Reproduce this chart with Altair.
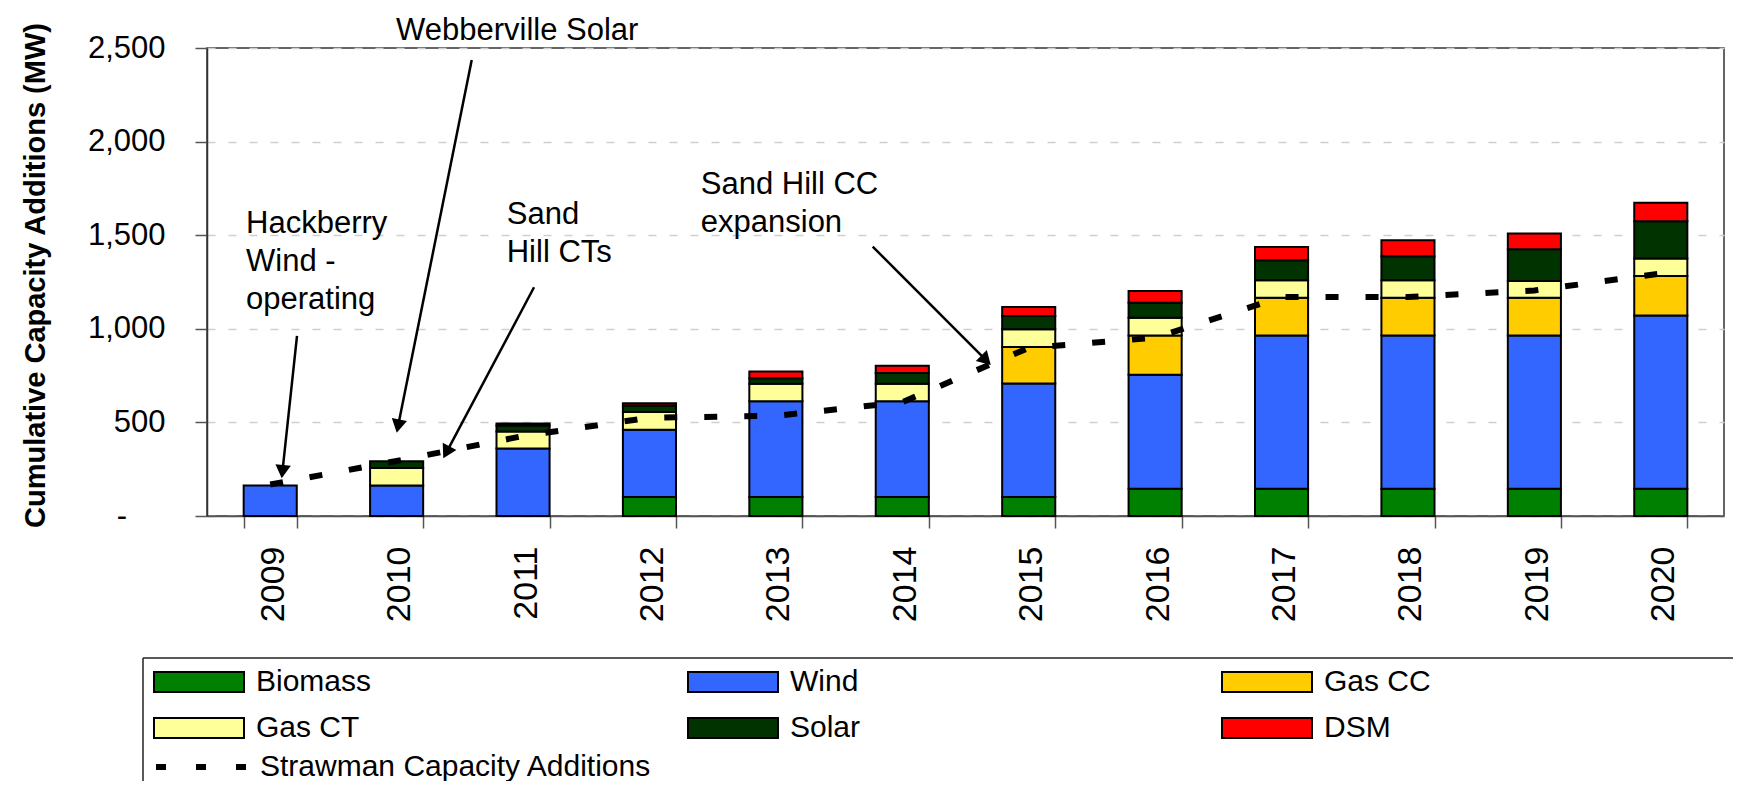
import math
import altair as alt
import pandas as pd

# ---------------- data ----------------
years = ["2009", "2010", "2011", "2012", "2013", "2014",
         "2015", "2016", "2017", "2018", "2019", "2020"]
series = ["Biomass", "Wind", "Gas CC", "Gas CT", "Solar", "DSM"]
colors = ["#008000", "#3366FF", "#FFCC00", "#FFFF99", "#003300", "#FF0000"]

biomass = [0, 0, 0, 102, 102, 102, 102, 145, 145, 145, 145, 145]
wind    = [163, 163, 360, 359, 511, 511, 606, 609, 819, 819, 819, 926]
gas_cc  = [0, 0, 0, 0, 0, 0, 195, 210, 202, 202, 202, 211]
gas_ct  = [0, 93, 92, 94, 93, 93, 94, 95, 93, 93, 89, 93]
solar   = [0, 37, 32, 35, 30, 58, 71, 80, 107, 128, 170, 200]
dsm     = [0, 0, 10, 12, 36, 38, 48, 63, 71, 86, 84, 98]
strawman = [168, 294, 427, 525, 535, 608, 898, 952, 1170, 1170, 1205, 1295]
strawman_label = "Strawman Capacity Additions"

y_ticks = [0, 500, 1000, 1500, 2000, 2500]
y_title = "Cumulative Capacity Additions (MW)"

# annotations (x in year-slot units from the left edge, y in MW)
note_c_text = ["Webberville Solar"]
note_c_pos = [2.454]
note_c_mw = [2543]
note_l_text = ["Hackberry\nWind -\noperating", "Sand\nHill CTs", "Sand Hill CC\nexpansion"]
note_l_pos = [0.309, 2.371, 3.906]
note_l_mw = [1510, 1560, 1720]
arrow_from_pos = [2.094, 0.712, 2.587, 5.266]
arrow_from_mw = [2436, 962, 1222, 1439]
arrow_to_pos = [1.501, 0.591, 1.869, 6.200]
arrow_to_mw = [445, 201, 308, 807]

# ---------------- layout ----------------
W, H = 1517, 468
FONT = "Liberation Sans"
PX_X = W / len(years)
PX_Y = H / 2500
HEAD = 240
head_len = math.sqrt(3) / 2 * math.sqrt(HEAD)

rows = []
for si, (name, vals) in enumerate(zip(series, [biomass, wind, gas_cc, gas_ct, solar, dsm])):
    for yr, v in zip(years, vals):
        if v > 0:
            rows.append({"year": yr, "series": name, "value": v, "order": si})
bar_df = pd.DataFrame(rows)
line_df = pd.DataFrame({"year": years, "value": strawman, "label": strawman_label})

arr_rows, head_rows = [], []
for sx, sv, tx, tv in zip(arrow_from_pos, arrow_from_mw, arrow_to_pos, arrow_to_mw):
    dx = (tx - sx) * PX_X
    dy = -(tv - sv) * PX_Y
    L = math.hypot(dx, dy)
    ux, uy = dx / L, dy / L
    bx = tx - head_len * 0.9 * ux / PX_X
    bv = tv + head_len * 0.9 * uy / PX_Y
    cx = tx - head_len / 2 * ux / PX_X
    cv = tv + head_len / 2 * uy / PX_Y
    ang = math.degrees(math.atan2(dx, -dy)) % 360
    arr_rows.append({"pos": sx, "value": sv, "pos2": bx, "value2": bv})
    head_rows.append({"pos": cx, "value": cv, "ang": ang})
arr_df = pd.DataFrame(arr_rows)
head_df = pd.DataFrame(head_rows)
note_c_df = pd.DataFrame({"pos": note_c_pos, "value": note_c_mw, "text": note_c_text})
note_l_df = pd.DataFrame({"pos": note_l_pos, "value": note_l_mw, "text": note_l_text})

yscale = alt.Scale(domain=[0, 2500], nice=False)
xpos = alt.X("pos:Q", scale=alt.Scale(domain=[0, len(years)], nice=False, zero=False), axis=None)
yenc = alt.Y("value:Q", scale=yscale, title=y_title)

RECT = "M-1,-0.2222H1V0.2222H-1Z"

zero_lbl = "-\u2002\u2800"
bars = alt.Chart(bar_df).mark_bar(stroke="black", strokeWidth=2).encode(
    x=alt.X("year:N", sort=years,
            scale=alt.Scale(paddingInner=0.58, paddingOuter=0.29),
            axis=alt.Axis(title=None, labelAngle=270, labelFontSize=34, labelFont=FONT,
                          labelColor="black", labelPadding=18, labelOffset=3, tickSize=12,
                          tickBand="extent", tickColor="#555", tickWidth=1.5,
                          domainColor="#555", domainWidth=1.5, grid=False)),
    y=alt.Y("value:Q", stack="zero", scale=yscale, title=y_title,
            axis=alt.Axis(values=y_ticks,
                          labelExpr=f"datum.value == 0 ? '{zero_lbl}' : format(datum.value, ',')",
                          labelFont=FONT, labelFontSize=31, labelColor="black", labelPadding=30,
                          tickSize=12, tickColor="#555", tickWidth=1.5,
                          domainColor="#333", domainWidth=1.5,
                          grid=True, gridColor="#cfcfcf", gridDash=[8, 13], gridWidth=1.5,
                          titleFont=FONT, titleFontSize=29, titleFontWeight="bold",
                          titleColor="black", titlePadding=37, titleY=227)),
    color=alt.Color("series:N", scale=alt.Scale(domain=series, range=colors),
                    legend=alt.Legend(title=None, orient="none", legendX=-54, legendY=622,
                                      direction="horizontal",
                                      columns=3, symbolType=RECT, symbolSize=8100,
                                      symbolStrokeColor="black", symbolStrokeWidth=2,
                                      symbolOpacity=1,
                                      labelFont=FONT, labelFontSize=30, labelColor="black",
                                      labelOffset=11, labelLimit=600,
                                      columnPadding=315, rowPadding=16, clipHeight=24,
                                      gridAlign="all", padding=0)),
    order=alt.Order("order:Q", sort="ascending"),
)

line = alt.Chart(line_df).mark_line(strokeWidth=6, strokeDash=[13, 27]).encode(
    x=alt.X("year:N", sort=years, axis=None),
    y=yenc,
    stroke=alt.Stroke("label:N", scale=alt.Scale(range=["black"]),
                      legend=alt.Legend(title=None, orient="none", legendX=-54, legendY=707,
                                        symbolType="stroke", symbolSize=8100,
                                        symbolStrokeWidth=6, symbolDash=[10, 30],
                                        labelFont=FONT, labelFontSize=30, labelColor="black",
                                        labelOffset=11, labelLimit=600, clipHeight=24,
                                        padding=0)),
)

rules = alt.Chart(arr_df).mark_rule(strokeWidth=2.5, color="black").encode(
    x=xpos, x2="pos2:Q", y=yenc, y2="value2:Q")
heads = alt.Chart(head_df).mark_point(shape="triangle-up", filled=True, size=HEAD,
                                      color="black", opacity=1, strokeWidth=0).encode(
    x=xpos, y=yenc, angle=alt.Angle("ang:Q", scale=None))
txt_c = alt.Chart(note_c_df).mark_text(align="center", baseline="alphabetic", font=FONT,
                                       fontSize=31, color="black").encode(
    x=xpos, y=yenc, text="text:N")
txt_l = alt.Chart(note_l_df).mark_text(align="left", baseline="alphabetic", font=FONT,
                                       fontSize=31, color="black", lineBreak="\n",
                                       lineHeight=38).encode(
    x=xpos, y=yenc, text="text:N")

one = pd.DataFrame({"k": [0]})
box_top = alt.Chart(one).mark_rule(color="#222", strokeWidth=1.5).encode(
    x=alt.value(-64), x2=alt.value(1526), y=alt.value(610))
box_left = alt.Chart(one).mark_rule(color="#222", strokeWidth=1.5).encode(
    x=alt.value(-64), y=alt.value(610), y2=alt.value(740))

chart = alt.layer(bars, line, box_top, box_left,
                  alt.layer(rules, heads, txt_c, txt_l)).resolve_scale(
    x="independent").properties(
    width=W, height=H,
    autosize=alt.AutoSizeParams(type="none"),
    padding={"left": 199, "top": 40, "right": 10, "bottom": 265},
).configure_view(stroke="#333", strokeWidth=1.5)

chart.save("out.html", embed_options={"renderer": "svg", "actions": False})
